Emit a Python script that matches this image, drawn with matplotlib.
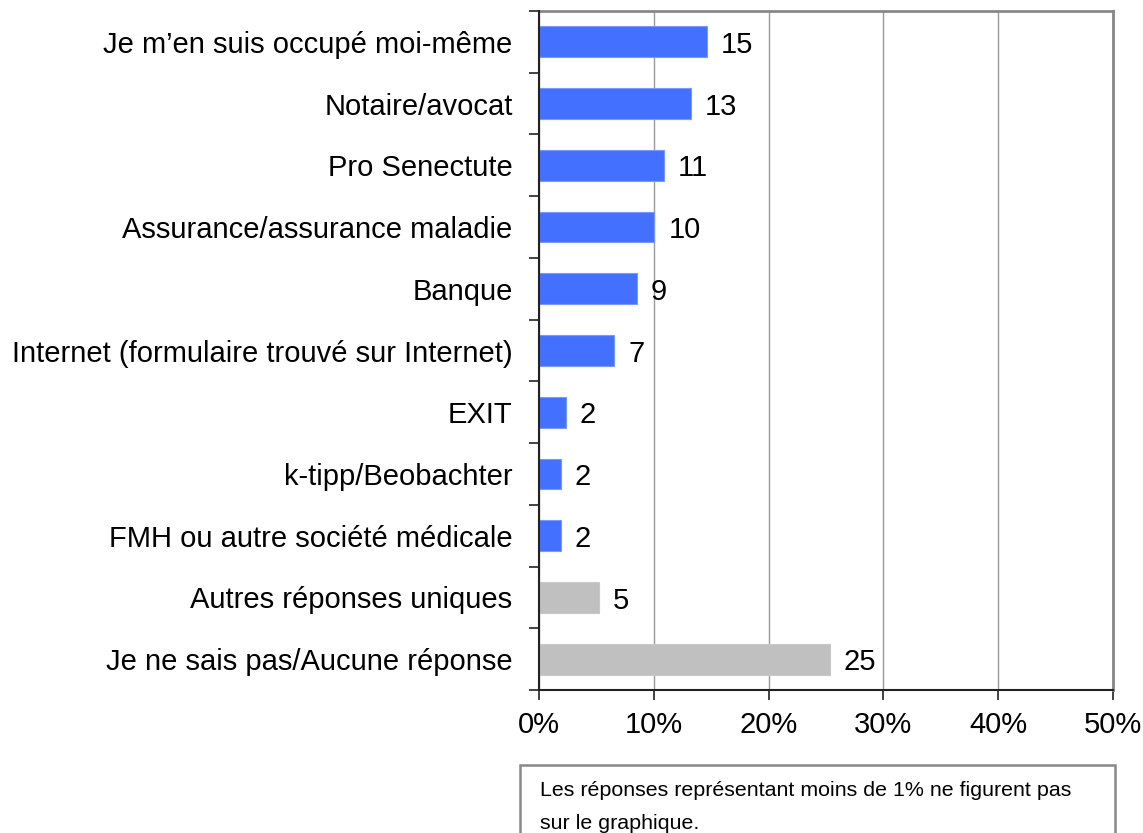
import matplotlib
matplotlib.use("Agg")
import matplotlib.pyplot as plt
from matplotlib.patches import Rectangle
import numpy as np

categories = [
    "Je m\u2019en suis occupé moi-même",
    "Notaire/avocat",
    "Pro Senectute",
    "Assurance/assurance maladie",
    "Banque",
    "Internet (formulaire trouvé sur Internet)",
    "EXIT",
    "k-tipp/Beobachter",
    "FMH ou autre société médicale",
    "Autres réponses uniques",
    "Je ne sais pas/Aucune réponse",
]
values = [14.65, 13.2, 10.85, 10.05, 8.5, 6.55, 2.35, 1.9, 1.9, 5.2, 25.35]
value_labels = ["15", "13", "11", "10", "9", "7", "2", "2", "2", "5", "25"]
groups = ["main"] * 9 + ["other"] * 2
xticks = [0, 10, 20, 30, 40, 50]
xtick_labels = ["0%", "10%", "20%", "30%", "40%", "50%"]
footnote_lines = ["Les réponses représentant moins de 1% ne figurent pas",
                  "sur le graphique."]

colors = {"main": "#4470FF", "other": "#C0C0C0"}
edges = {"main": "#7A98FF", "other": "#C8C8C8"}

plt.rcParams["font.family"] = ["Liberation Sans", "DejaVu Sans"]

W, H = 1143, 833
FS = 21.0
fig = plt.figure(figsize=(W / 100, H / 100), dpi=100)
ax = fig.add_axes([539 / W, 1 - 690 / H, (1113 - 539) / W, (690 - 11) / H])

n = len(categories)
y = np.arange(n)
ax.barh(y, values, height=0.5,
        color=[colors[g] for g in groups],
        edgecolor=[edges[g] for g in groups], linewidth=0.8, zorder=3)

ax.set_xlim(0, 50)
ax.set_ylim(n - 0.5, -0.5)
ax.set_xticks(xticks)
ax.set_xticklabels(xtick_labels, fontsize=FS)
ax.set_yticks(y)
ax.set_yticklabels(categories, fontsize=FS, va="center_baseline")
ax.tick_params(axis="y", which="major", length=0, pad=19)
ax.set_yticks(np.arange(n + 1) - 0.5, minor=True)
ax.tick_params(axis="y", which="minor", length=7, width=1.2, color="#222222")
ax.tick_params(axis="x", which="major", length=7, width=1.2, color="#222222", pad=8)

ax.grid(axis="x", color="#999999", linewidth=1.0, zorder=0)
for s in ["top", "right"]:
    ax.spines[s].set_color("#888888")
    ax.spines[s].set_linewidth(2)
for s in ["left", "bottom"]:
    ax.spines[s].set_color("#222222")
    ax.spines[s].set_linewidth(1.5)
ax.spines["left"].set_zorder(4)

for yi, v, lab in zip(y, values, value_labels):
    ax.annotate(lab, xy=(v, yi), xytext=(10, -8), textcoords="offset points",
                ha="left", va="baseline", fontsize=FS, color="black")

# footnote box
fig.patches.append(Rectangle((520 / W, 1 - 860 / H), (1115 - 520) / W, (860 - 765) / H,
                             transform=fig.transFigure, fill=False,
                             edgecolor="#888888", linewidth=1.8))
for line, base in zip(footnote_lines, [796, 829]):
    fig.text(540 / W, 1 - base / H, line, ha="left", va="baseline", fontsize=15.4)

fig.savefig("out.png", dpi=100)
